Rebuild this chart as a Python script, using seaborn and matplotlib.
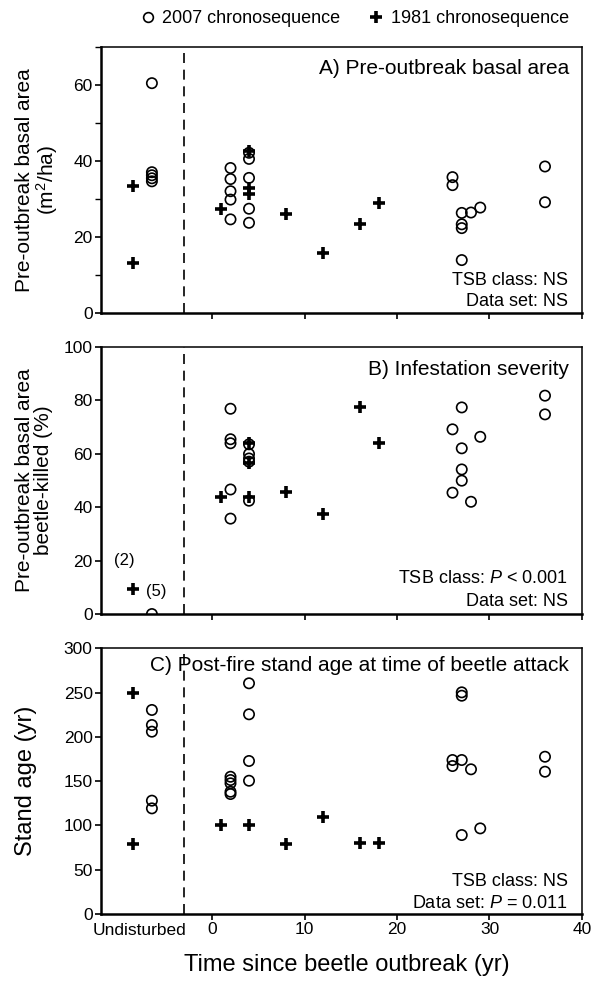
import pandas as pd
import seaborn as sns
from matplotlib import pyplot as plt
from matplotlib.lines import Line2D
from matplotlib.ticker import MultipleLocator

# x position used for the "Undisturbed" stands
UND_81 = -8.5
UND_07 = -6.5

# A) Pre-outbreak basal area (m2/ha)
a07_x = [UND_07] * 5 + [2] * 5 + [4] * 5 + [26] * 2 + [27] * 4 + [28, 29] + [36] * 2
a07_y = [60.4, 37.0, 36.2, 35.4, 34.6,
         38.1, 35.2, 32.0, 29.8, 24.6,
         42.1, 40.5, 35.5, 27.4, 23.7,
         35.7, 33.6,
         26.3, 23.3, 22.3, 13.9,
         26.4, 27.7,
         38.5, 29.1]
a81_x = [UND_81, UND_81, 1, 4, 4, 4, 8, 12, 16, 18]
a81_y = [33.4, 13.2, 27.3, 42.5, 32.9, 31.4, 26.0, 15.8, 23.5, 29.0]

# B) Infestation severity (%)
b07_x = [UND_07] + [2] * 5 + [4] * 5 + [26] * 2 + [27] * 4 + [28, 29] + [36] * 2
b07_y = [0.0,
         76.8, 65.4, 63.9, 46.6, 35.7,
         63.5, 59.9, 58.2, 57.0, 42.4,
         69.1, 45.4,
         77.3, 62.0, 54.1, 49.9,
         42.0, 66.3,
         81.7, 74.7]
b81_x = [UND_81, 1, 4, 4, 4, 8, 12, 16, 18]
b81_y = [9.2, 43.9, 63.9, 56.4, 43.9, 45.8, 37.5, 77.6, 63.9]

# C) Stand age (yr)
c07_x = [UND_07] * 5 + [2] * 5 + [4] * 4 + [26] * 2 + [27] * 4 + [28, 29] + [36] * 2
c07_y = [230.4, 213.4, 205.9, 128.0, 119.3,
         155.0, 151.3, 147.6, 138.1, 135.5,
         260.5, 225.5, 172.8, 150.5,
         173.9, 167.1,
         250.3, 246.5, 173.9, 89.2,
         163.4, 96.7,
         177.6, 160.7]
c81_x = [UND_81, UND_81, 1, 4, 8, 12, 16, 18]
c81_y = [250, 79, 100, 100, 79, 110, 80, 80]

x_ticks = [0, 10, 20, 30, 40]


def _frame(x07, y07, x81, y81):
    d07 = pd.DataFrame({"x": x07, "y": y07, "set": "2007"})
    d81 = pd.DataFrame({"x": x81, "y": y81, "set": "1981"})
    return pd.concat([d07, d81], ignore_index=True)


def _plot_panel(ax, df, title, title_y, stats, ylim, ystep, ylabel, ylabel_size, yminor=None):
    sns.scatterplot(data=df[df["set"] == "2007"], x="x", y="y", ax=ax, marker="o", s=55,
                    facecolor="none", edgecolor="black", linewidth=1.2, legend=False)
    sns.scatterplot(data=df[df["set"] == "1981"], x="x", y="y", ax=ax, marker="+", s=80,
                    color="black", linewidth=2.6, legend=False)
    ax.axvline(-3, color="black", lw=1.2, ls=(0, (6, 4)))

    ax.set_xlim(-12, 40)
    ax.set_ylim(*ylim)
    ax.set_xticks(x_ticks)
    ax.yaxis.set_major_locator(MultipleLocator(ystep))
    if yminor:
        ax.yaxis.set_minor_locator(MultipleLocator(yminor))
    ax.tick_params(direction="out", length=4, width=1.2, labelsize=12.5, pad=2)
    ax.tick_params(which="minor", direction="out", length=4, width=1.0)

    for side in ["left", "bottom"]:
        ax.spines[side].set_linewidth(1.8)
    for side in ["top", "right"]:
        ax.spines[side].set_linewidth(1.1)

    ax.set_xlabel("")
    ax.set_ylabel(ylabel, fontsize=ylabel_size, va="top", linespacing=1.0)
    ax.yaxis.set_label_coords(-0.178, 0.5)

    ax.text(0.973, title_y, title, transform=ax.transAxes, ha="right", va="center", fontsize=15)
    ax.text(0.971, stats[2], stats[0], transform=ax.transAxes, ha="right", va="center", fontsize=13)
    ax.text(0.971, stats[3], stats[1], transform=ax.transAxes, ha="right", va="center", fontsize=13)


def main():
    sns.set_theme(style="ticks")
    plt.rcParams["font.family"] = ["Liberation Sans", "DejaVu Sans"]
    plt.rcParams["mathtext.fontset"] = "custom"
    plt.rcParams["mathtext.rm"] = "Liberation Sans"
    plt.rcParams["mathtext.it"] = "Liberation Sans:italic"
    for key in ["axes.edgecolor", "xtick.color", "ytick.color", "text.color", "axes.labelcolor"]:
        plt.rcParams[key] = "black"

    fig = plt.figure(figsize=(5.96, 9.82), dpi=100)
    ax_a = fig.add_axes([0.1695, 0.6813, 0.807, 0.2712])
    ax_b = fig.add_axes([0.1695, 0.3747, 0.807, 0.2722])
    ax_c = fig.add_axes([0.1695, 0.0692, 0.807, 0.2706])

    _plot_panel(ax_a, _frame(a07_x, a07_y, a81_x, a81_y), "A) Pre-outbreak basal area", 0.919,
                ("TSB class: NS", "Data set: NS", 0.121, 0.042), (0, 70), 20,
                "Pre-outbreak basal area\n(m$^2$/ha)", 15, yminor=10)
    _plot_panel(ax_b, _frame(b07_x, b07_y, b81_x, b81_y), "B) Infestation severity", 0.913,
                ("TSB class: $P$ < 0.001", "Data set: NS", 0.134, 0.046), (0, 100), 20,
                "Pre-outbreak basal area\nbeetle-killed (%)", 15)
    _plot_panel(ax_c, _frame(c07_x, c07_y, c81_x, c81_y),
                "C) Post-fire stand age at time of beetle attack", 0.937,
                ("TSB class: NS", "Data set: $P$ = 0.011", 0.122, 0.040), (0, 300), 50,
                "Stand age (yr)", 17)

    ax_b.text(-9.5, 20.2, "(2)", ha="center", va="center", fontsize=12)
    ax_b.text(-6.0, 8.3, "(5)", ha="center", va="center", fontsize=12)

    ax_a.set_xticklabels([])
    ax_b.set_xticklabels([])
    ax_c.text(-7.8, -0.035, "Undisturbed", transform=ax_c.get_xaxis_transform(),
              ha="center", va="top", fontsize=12.5)
    fig.text(0.582, 0.017, "Time since beetle outbreak (yr)", ha="center", va="center", fontsize=17)

    handles = [
        Line2D([], [], ls="", marker="o", mfc="none", mec="black", mew=1.2, ms=7),
        Line2D([], [], ls="", marker="+", color="black", mew=2.6, ms=9),
    ]
    fig.legend(handles, ["2007 chronosequence", "1981 chronosequence"], loc="center",
               bbox_to_anchor=(0.592, 0.981), ncol=2, frameon=False, fontsize=13,
               handletextpad=0.2, columnspacing=1.4, handlelength=1.2)

    fig.savefig("out.png", dpi=100)


if __name__ == '__main__':
    main()
